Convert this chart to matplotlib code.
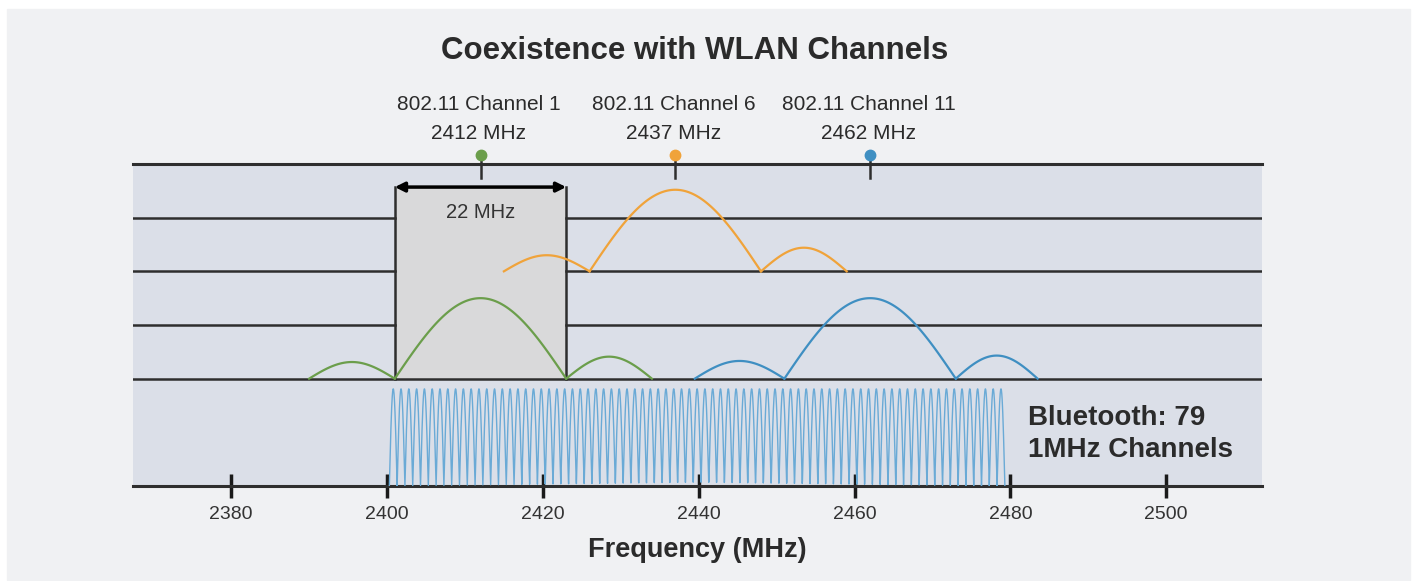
import numpy as np
import matplotlib.pyplot as plt
from matplotlib.patches import Rectangle

plt.rcParams['font.family'] = ['Liberation Sans', 'DejaVu Sans']

# WLAN channels: name, centre frequency, colour, baseline level
wlan_names = ["802.11 Channel 1", "802.11 Channel 6", "802.11 Channel 11"]
wlan_centers = [2412, 2437, 2462]
wlan_colors = ["#6b9e4b", "#f0a33a", "#3f8fc2"]
wlan_levels = [2, 4, 2]
# lobe heights: left sidelobe, main lobe, right sidelobe
wlan_heights = [[0.31, 1.50, 0.41],
                [0.30, 1.52, 0.44],
                [0.33, 1.50, 0.43]]
# how far the side lobes reach (MHz) on each side
side_left = [11, 11, 11.5]
side_right = [11, 11, 10.5]

bt_count = 79
bt_first = 2400.8
bt_height = 1.81

ticks = [2380, 2400, 2420, 2440, 2460, 2480, 2500]
grid_levels = [3, 4, 5]

fig = plt.figure(figsize=(14.14, 5.81), dpi=100, facecolor="white")
fig.patches.append(Rectangle((7 / 1414, 1 / 581), 1403 / 1414, 571 / 581,
                             transform=fig.transFigure, color="#f0f1f3", zorder=-10))
ax = fig.add_axes([133 / 1414, 95 / 581, 1129 / 1414, 322 / 581])
ax.set_facecolor("#dbdfe8")
ax.set_xlim(2367.4, 2512.3)
ax.set_ylim(0, 6)

line_c = "#2e2e2e"
box_l, box_r = 2401, 2423
box_top = 5.57

# gray 22 MHz box
ax.add_patch(Rectangle((box_l, 2), box_r - box_l, box_top - 2,
                       facecolor="#d9d9da", edgecolor="none", zorder=1))
ax.plot([box_l, box_l], [2, box_top], color=line_c, lw=1.8, zorder=3)
ax.plot([box_r, box_r], [2, box_top], color=line_c, lw=1.8, zorder=3)
ax.annotate("", xy=(box_l, box_top), xytext=(box_r, box_top),
            arrowprops=dict(arrowstyle="<|-|>", color="black", lw=2.5,
                            mutation_scale=14, shrinkA=0, shrinkB=0), zorder=4)
ax.text((box_l + box_r) / 2, 5.1, "22 MHz", ha="center", va="center",
        fontsize=14.5, color="#333333", zorder=4)

# horizontal lines
xmin, xmax = ax.get_xlim()
for lv in grid_levels:
    ax.plot([xmin, box_l], [lv, lv], color=line_c, lw=1.8, zorder=2)
    ax.plot([box_r, xmax], [lv, lv], color=line_c, lw=1.8, zorder=2)
ax.axhline(2, color=line_c, lw=1.8, zorder=2)
ax.axhline(6, color=line_c, lw=2.2, zorder=2, clip_on=False)

# WLAN spectra
for fc, col, lv, hts, sl, sr in zip(wlan_centers, wlan_colors, wlan_levels,
                                     wlan_heights, side_left, side_right):
    edges = [fc - 11 - sl, fc - 11, fc + 11, fc + 11 + sr]
    for (a, b), h in zip(zip(edges[:-1], edges[1:]), hts):
        f = np.linspace(a, b, 100)
        ax.plot(f, lv + h * np.sin(np.pi * (f - a) / (b - a)), color=col,
                lw=1.6, zorder=5)

# Bluetooth comb
f = np.linspace(bt_first - 0.5, bt_first + bt_count - 0.5, bt_count * 40)
ax.plot(f, bt_height * np.abs(np.sin(np.pi * (f - bt_first + 0.5))),
        color="#6aaad6", lw=1.0, zorder=5)
ax.text(2482.3, 0.97, "Bluetooth: 79\n1MHz Channels", ha="left", va="center",
        fontsize=20, fontweight="bold", color="#2b2b2b", linespacing=1.3)

# channel markers and labels
for name, fc, col in zip(wlan_names, wlan_centers, wlan_colors):
    ax.plot([fc, fc], [6.15, 5.74], color=line_c, lw=1.8, zorder=6, clip_on=False)
    ax.plot(fc, 6.17, "o", color=col, ms=7.5, zorder=7, clip_on=False)
    ax.text(fc - 0.2, 6.84, f"{name}\n{fc} MHz", ha="center", va="center",
            fontsize=15, color="#2b2b2b", linespacing=1.7)

for s in ["left", "right", "top"]:
    ax.spines[s].set_visible(False)
ax.spines["bottom"].set_linewidth(2.2)
ax.spines["bottom"].set_color(line_c)
ax.set_yticks([])
ax.set_xticks(ticks)
ax.tick_params(axis="x", direction="inout", length=17, width=2.5, color="#1a1a1a",
               labelsize=14, labelcolor="#333333", pad=6)
ax.set_xlabel("Frequency (MHz)", fontsize=19.5, fontweight="bold",
              color="#2b2b2b", labelpad=10)

fig.text(0.4915, 0.913, "Coexistence with WLAN Channels", ha="center", va="center",
         fontsize=22.5, fontweight="bold", color="#2b2b2b")

fig.savefig("out.png", dpi=100, facecolor=fig.get_facecolor())
